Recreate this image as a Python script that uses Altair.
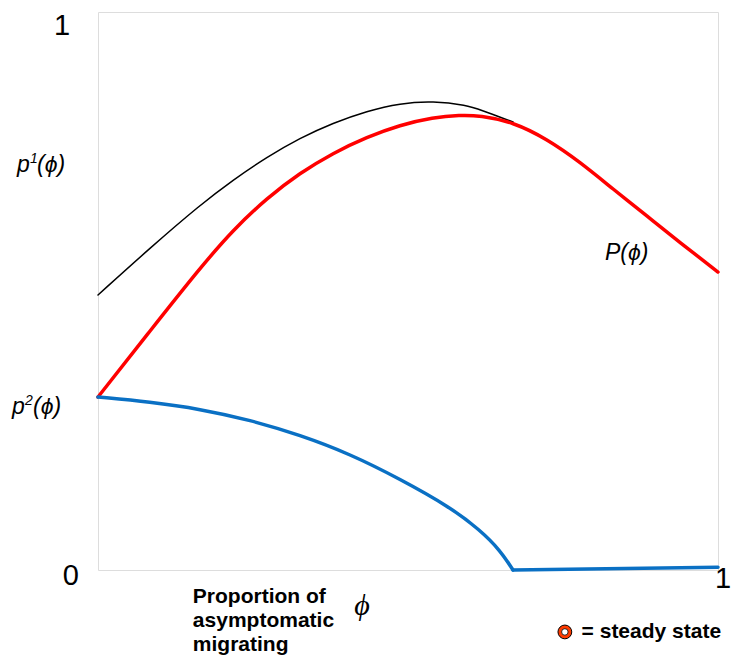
import altair as alt
import pandas as pd

# Red curve P(phi)
red_phi = [0.0, 0.0839, 0.1645, 0.2177, 0.2726, 0.3258, 0.379, 0.4339, 0.4871, 0.5403, 0.5839, 0.6161, 0.6694, 0.7242, 0.7774, 0.8306, 0.8855, 0.9387, 1.0]
red_val = [0.310, 0.4283, 0.5412, 0.6093, 0.6667, 0.7115, 0.7473, 0.776, 0.7975, 0.811, 0.8154, 0.8145, 0.8029, 0.7724, 0.7312, 0.6828, 0.6344, 0.5869, 0.534]

# Black curve p1(phi)
blk_phi = [0.0, 0.0839, 0.1645, 0.2177, 0.2726, 0.3258, 0.379, 0.4339, 0.4871, 0.5403, 0.5952, 0.6161, 0.6694]
blk_val = [0.4928, 0.5771, 0.6541, 0.6989, 0.7401, 0.7742, 0.8011, 0.8225, 0.8365, 0.8405, 0.8330, 0.8250, 0.8029]

# Blue curve p2(phi): curved part, then the flat part along the bottom
blu_phi = [0.0, 0.0839, 0.1645, 0.2452, 0.3258, 0.4065, 0.4871, 0.5677, 0.6161, 0.6484, 0.6694]
blu_val = [0.310, 0.3011, 0.2885, 0.2688, 0.2419, 0.2079, 0.1631, 0.1129, 0.0717, 0.0358, 0.0]
flat_phi = [0.6694, 1.0]
flat_val = [0.0, 0.005]

# Axis end labels (data units)
lab_text = ["1", "0", "1"]
lab_x = [-0.058, -0.044, 1.008]
lab_y = [0.975, -0.011, -0.016]

# Curve labels: main parts and superscripts
main_text = ["p", "(ϕ)", "p", "(ϕ)", "P(ϕ)"]
main_x = [-0.1306, -0.0984, -0.1387, -0.1048, 0.8177]
main_y = [0.7133, 0.7133, 0.2796, 0.2796, 0.5556]
sup_text = ["1", "2"]
sup_x = [-0.1097, -0.1177]
sup_y = [0.7294, 0.2957]

# x-axis caption
xl_text = ["Proportion of", "asymptomatic", "migrating"]
xl_x = [0.153, 0.153, 0.153]
xl_y = [-0.048, -0.091, -0.134]

phi_text = ["ϕ"]
phi_x = [0.426]
phi_y = [-0.065]

# Legend
leg_text = ["= steady state"]
leg_x = [0.780]
leg_y = [-0.111]
leg_pt_x = [0.753]
leg_pt_y = [-0.111]

FONT = "Liberation Sans"

xs = alt.Scale(domain=[0, 1], nice=False, zero=False)
ys = alt.Scale(domain=[0, 1], nice=False, zero=False)


def line(phi, val, color, width, interp="basis"):
    df = pd.DataFrame({"phi": phi, "v": val})
    return alt.Chart(df).mark_line(color=color, strokeWidth=width, interpolate=interp, clip=False,
                                   strokeCap="round", strokeJoin="round").encode(
        x=alt.X("phi:Q", scale=xs, axis=None),
        y=alt.Y("v:Q", scale=ys, axis=None),
    )


def texts(t, x, y, **kw):
    df = pd.DataFrame({"t": t, "x": x, "y": y})
    return alt.Chart(df).mark_text(**kw).encode(
        x=alt.X("x:Q", scale=xs, axis=None),
        y=alt.Y("y:Q", scale=ys, axis=None),
        text="t:N",
    )


black = line(blk_phi, blk_val, "#000000", 1.5)
red = line(red_phi, red_val, "#FF0000", 3.5)
blue = line(blu_phi, blu_val, "#0A70C4", 3.5)
blue_flat = line(flat_phi, flat_val, "#0A70C4", 3.5, interp="linear")

t_axis = texts(lab_text, lab_x, lab_y, font=FONT, fontSize=29, align="center", baseline="middle", color="#000")
t_main = texts(main_text, main_x, main_y, font=FONT, fontSize=23, fontStyle="italic", align="left", baseline="alphabetic", color="#000")
t_sup = texts(sup_text, sup_x, sup_y, font=FONT, fontSize=14, fontStyle="italic", align="left", baseline="alphabetic", color="#000")
t_xl = texts(xl_text, xl_x, xl_y, font=FONT, fontSize=21, fontWeight="bold", align="left", baseline="middle", color="#000")
t_phi = texts(phi_text, phi_x, phi_y, font="Liberation Serif", fontSize=30, fontStyle="italic", align="center", baseline="middle", color="#000")
t_leg = texts(leg_text, leg_x, leg_y, font=FONT, fontSize=21, fontWeight="bold", align="left", baseline="middle", color="#000")

leg_df = pd.DataFrame({"x": leg_pt_x, "y": leg_pt_y})
leg_outer = alt.Chart(leg_df).mark_point(shape="circle", filled=True, size=190, fill="#FF3B00", stroke="#000", strokeWidth=1, opacity=1).encode(
    x=alt.X("x:Q", scale=xs, axis=None), y=alt.Y("y:Q", scale=ys, axis=None))
leg_inner = alt.Chart(leg_df).mark_point(shape="circle", filled=True, size=42, fill="#FFFFFF", stroke="#000", strokeWidth=0.8, opacity=1).encode(
    x=alt.X("x:Q", scale=xs, axis=None), y=alt.Y("y:Q", scale=ys, axis=None))

chart = alt.layer(black, red, blue, blue_flat, t_axis, t_main, t_sup, t_xl, t_phi, t_leg, leg_outer, leg_inner).properties(
    width=620,
    height=558,
    autosize=alt.AutoSizeParams(type="none"),
    padding={"left": 90, "top": 4, "right": 13, "bottom": 85},
).configure_view(stroke="#666666", strokeWidth=1).configure(background="white")

chart.save("out.html", embed_options={"renderer": "svg", "actions": False})
